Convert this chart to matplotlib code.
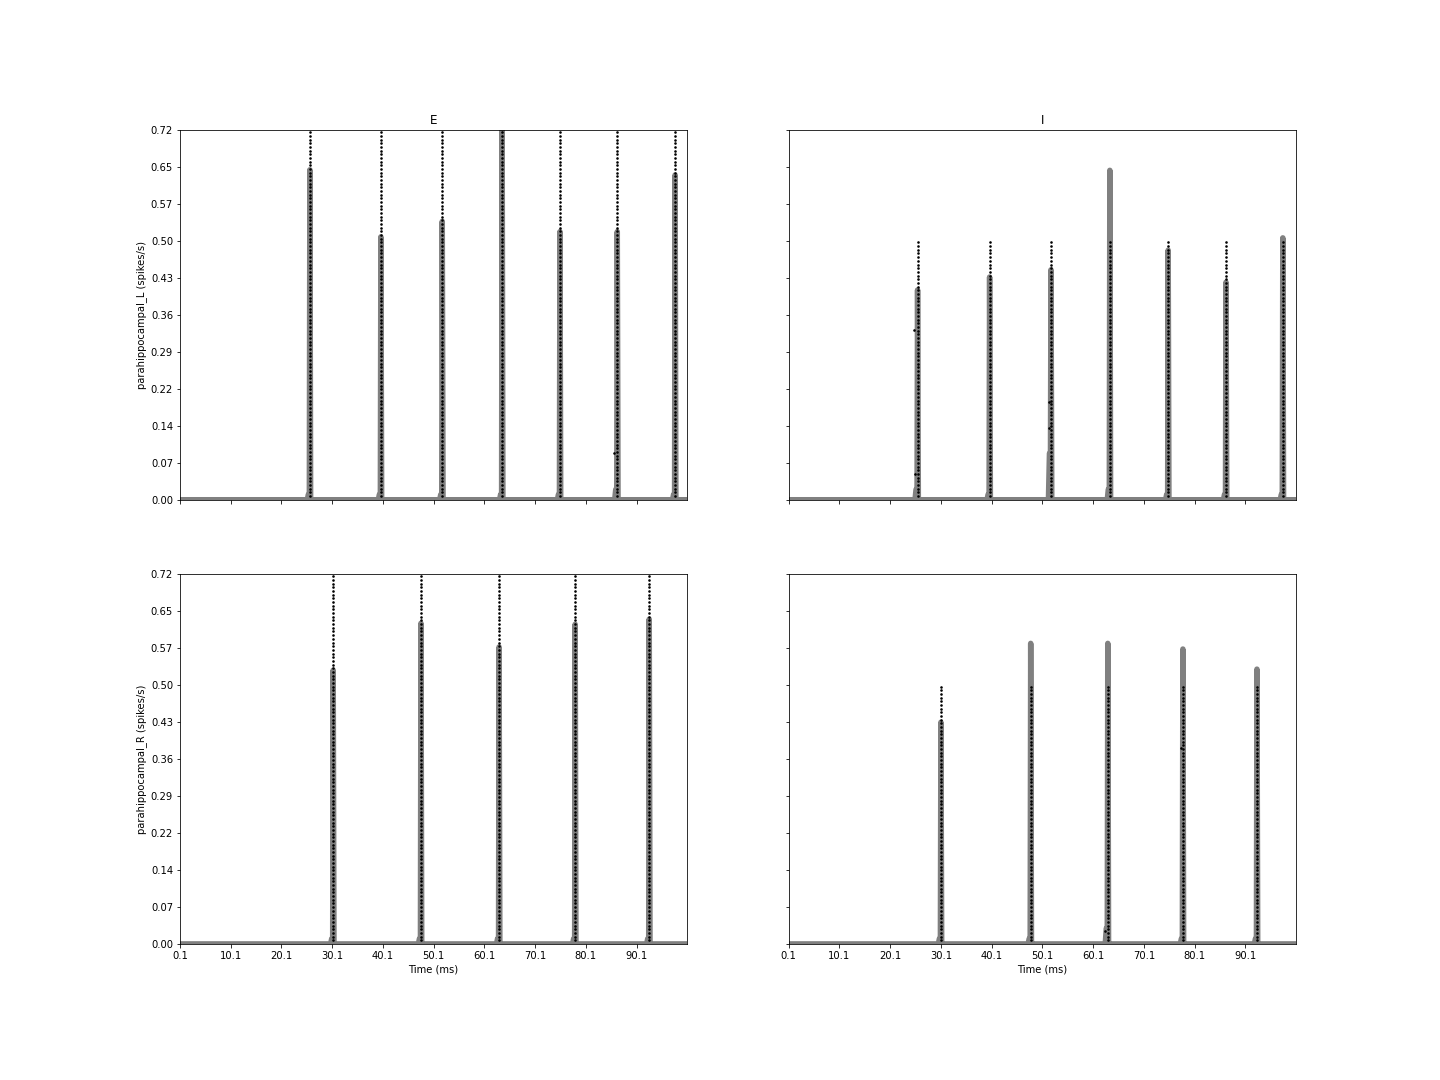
import numpy as np
import matplotlib
matplotlib.use("Agg")
import matplotlib.pyplot as plt

# ---- data -------------------------------------------------------------
regions = ["parahippocampal_L", "parahippocampal_R"]
populations = ["E", "I"]

# burst (peak) times in ms, peak rates, pre-peak shoulder rates
burst_t_L_E = [25.7, 39.7, 51.8, 63.6, 75.0, 86.3, 97.7]
peak_L_E = [0.640, 0.510, 0.540, 0.760, 0.520, 0.520, 0.630]
shoulder_L_E = [0.01, 0.01, 0.01, 0.01, 0.01, 0.02, 0.01]

burst_t_L_I = [25.5, 39.7, 51.8, 63.4, 74.9, 86.3, 97.5]
peak_L_I = [0.407, 0.432, 0.446, 0.639, 0.484, 0.422, 0.508]
shoulder_L_I = [0.02, 0.01, 0.09, 0.02, 0.01, 0.01, 0.01]

burst_t_R_E = [30.3, 47.6, 63.0, 78.0, 92.6]
peak_R_E = [0.531, 0.622, 0.576, 0.620, 0.630]
shoulder_R_E = [0.01, 0.01, 0.01, 0.01, 0.01]

burst_t_R_I = [30.1, 47.8, 63.0, 77.8, 92.4]
peak_R_I = [0.430, 0.583, 0.583, 0.572, 0.533]
shoulder_R_I = [0.01, 0.01, 0.03, 0.01, 0.01]

# raster: number of neurons and their scaled top value
n_neurons = {"E": 100, "I": 70}
raster_scale = 0.00713

# a few stray spikes (time ms, scaled neuron position)
stray_L_E = [(85.7, 0.091)]
stray_L_I = [(24.8, 0.329), (24.9, 0.05), (51.4, 0.19), (51.5, 0.14)]
stray_R_E = []
stray_R_I = [(62.5, 0.025), (77.4, 0.38)]

t_start, t_end = 0.1, 100.1
y_max = 0.718
xtick_vals = [0.1, 10.1, 20.1, 30.1, 40.1, 50.1, 60.1, 70.1, 80.1, 90.1]

panels = {
    (0, 0): (burst_t_L_E, peak_L_E, shoulder_L_E, stray_L_E, "E"),
    (0, 1): (burst_t_L_I, peak_L_I, shoulder_L_I, stray_L_I, "I"),
    (1, 0): (burst_t_R_E, peak_R_E, shoulder_R_E, stray_R_E, "E"),
    (1, 1): (burst_t_R_I, peak_R_I, shoulder_R_I, stray_R_I, "I"),
}

# ---- plot -------------------------------------------------------------
fig, axes = plt.subplots(2, 2, figsize=(20, 15), dpi=72, sharex=True, sharey=True)
fig.subplots_adjust(left=0.125, right=0.9, top=0.88, bottom=0.126, hspace=0.2, wspace=0.2)

for (r, c), (bt, pk, sh, stray, pop) in panels.items():
    ax = axes[r, c]
    # rate trace vertices
    tx = [t_start]
    ty = [0.0]
    for t, p, s in zip(bt, pk, sh):
        tx += [t - 0.5, t - 0.3, t - 0.1, t, t + 0.15, t + 0.3]
        ty += [0.0, s, s, p, 0.0, 0.0]
    tx.append(t_end)
    ty.append(0.0)
    ax.plot(tx, ty, color="gray", lw=5.5, solid_joinstyle="round", zorder=1)

    # raster
    ids = np.arange(1, n_neurons[pop] + 1)
    for t in bt:
        ax.plot(np.full(ids.shape, t), ids * raster_scale, "o", color="black",
                ms=2.6, mew=0, zorder=2)
    for t, y in stray:
        ax.plot([t], [y], "o", color="black", ms=2.6, mew=0, zorder=2)

    ax.set_xlim(t_start, t_end)
    ax.set_ylim(0, y_max)
    ax.set_xticks(xtick_vals)
    ax.set_xticklabels([f"{v:.1f}" for v in xtick_vals])
    yt = np.linspace(0, y_max, 11)
    ax.set_yticks(yt)
    ax.set_yticklabels([f"{v:.2f}" for v in yt])
    if r == 0:
        ax.set_title(populations[c])
    if r == 1:
        ax.set_xlabel("Time (ms)")
    if c == 0:
        ax.set_ylabel(f"{regions[r]} (spikes/s)")
    ax.tick_params(labelbottom=(r == 1), labelleft=(c == 0))

fig.savefig("out.png", dpi=72)
